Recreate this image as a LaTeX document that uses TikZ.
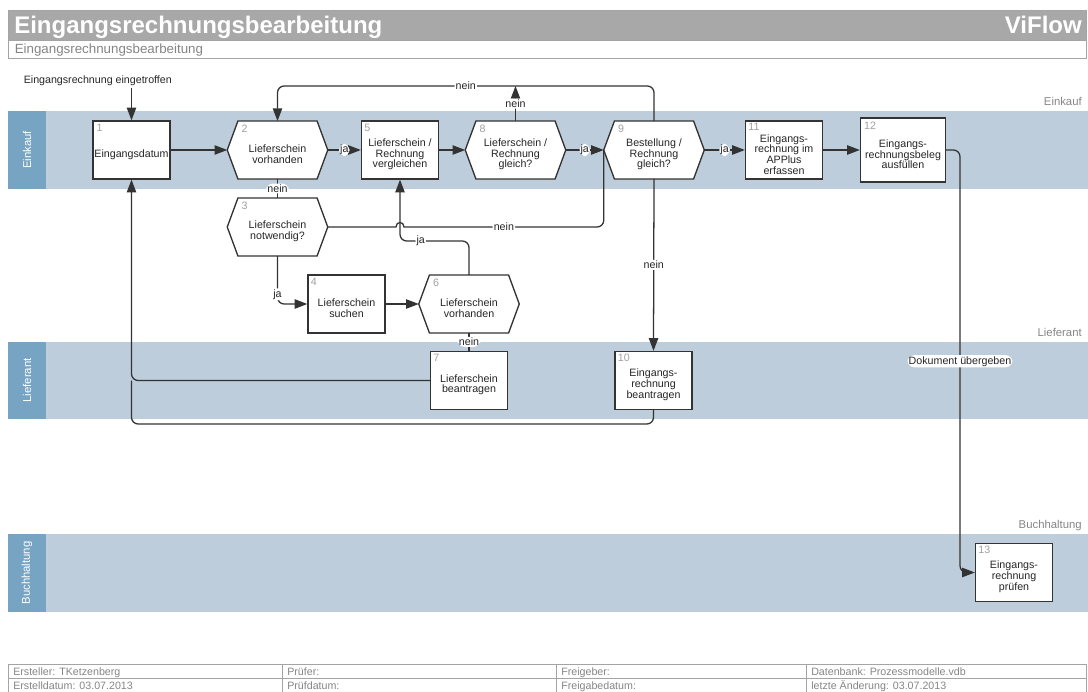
\documentclass[tikz,border=0pt]{standalone}
\usepackage{fontspec}
\setmainfont{Liberation Sans}
\usetikzlibrary{arrows.meta}

\definecolor{lanebg}{HTML}{BDCDDB}
\definecolor{lanehead}{HTML}{78A4C4}
\definecolor{titlebar}{HTML}{A8A8A8}
\definecolor{framegray}{HTML}{A4A4A4}
\definecolor{numgray}{HTML}{A0A0A0}
\definecolor{softgray}{HTML}{858585}
\definecolor{ink}{HTML}{262626}
\definecolor{linec}{HTML}{333333}

% elongated hexagon around a (borderless) node
\newcommand\hexfill[1]{%
  \filldraw[draw=linec, fill=white, line width=1pt]
    (#1.west) -- ([xshift=8pt]#1.north west) -- ([xshift=-8pt]#1.north east)
    -- (#1.east) -- ([xshift=-8pt]#1.south east) -- ([xshift=8pt]#1.south west) -- cycle;}

\begin{document}
\begin{tikzpicture}[x=0.75pt, y=-0.75pt,
  every node/.style={font=\fontsize{8}{8}\selectfont, text=ink, inner sep=0pt},
  box/.style={draw=linec, fill=white, line width=1pt, minimum width=57.75pt, minimum height=43.5pt},
  widebox/.style={box, minimum width=63.75pt, minimum height=48pt},
  hexbox/.style={minimum width=75pt, minimum height=43pt},
  caption/.style={align=center, yshift=-3.2pt},
  num/.style={anchor=north west, text=numgray},
  flow/.style={draw=linec, line width=0.95pt, rounded corners=5pt},
  arr/.style={flow, -{Triangle[length=9.5pt,width=7pt]}},
  lbl/.style={fill=white, inner sep=0.8pt},
  lanetitle/.style={anchor=base east, text=softgray, font=\fontsize{8.5}{8.5}\selectfont},
  lanename/.style={rotate=90, text=white, font=\fontsize{8.5}{8.5}\selectfont},
  foot/.style={anchor=base west, text=softgray, font=\fontsize{8}{8}\selectfont}
]
\useasboundingbox (0,0) rectangle (1088,692);

% ---------- header ----------
\fill[titlebar] (8,10) rectangle (1086,40);
\draw[framegray, fill=white, line width=0.7pt] (8,40) rectangle (1086,58);
\draw[framegray, line width=0.7pt] (8,10) rectangle (1086,58);
\node[anchor=base west, text=white, font=\fontsize{18}{18}\selectfont\bfseries] (title) at (14,33.3) {Eingangsrechnungsbearbeitung};
\node[anchor=base east, text=white, font=\fontsize{18}{18}\selectfont\bfseries] (brand) at (1082,33.3) {ViFlow};
\node[anchor=base west, text=softgray, font=\fontsize{10}{10}\selectfont] (subtitle) at (14.5,53.3) {Eingangsrechnungsbearbeitung};

% ---------- swimlanes ----------
\fill[lanebg] (8,111) rectangle (1088,189);
\fill[lanehead] (8,111) rectangle (46,189);
\fill[lanebg] (8,342) rectangle (1088,419);
\fill[lanehead] (8,342) rectangle (46,419);
\fill[lanebg] (8,534) rectangle (1088,612);
\fill[lanehead] (8,534) rectangle (46,612);

\node[lanename] (hEinkauf) at (27,150) {Einkauf};
\node[lanename] (hLieferant) at (27,380.5) {Lieferant};
\node[lanename] (hBuch) at (27,573) {Buchhaltung};

\node[lanetitle] (rEinkauf) at (1082,105.5) {Einkauf};
\node[lanetitle] (rLieferant) at (1082,336.5) {Lieferant};
\node[lanetitle] (rBuch) at (1082,528.5) {Buchhaltung};

% ---------- process steps ----------
\node[box] (n1) at (131.5,150) {};
\node[caption] (t1) at (n1) {Eingangsdatum};
\node[num] (k1) at ([xshift=3pt,yshift=-3pt]n1.north west) {1};

\node[hexbox] (n2) at (277.5,150) {};
\hexfill{n2}
\node[caption] (t2) at (n2) {Lieferschein\\vorhanden};
\node[num] (k2) at ([xshift=10.5pt,yshift=-2.5pt]n2.north west) {2};

\node[hexbox] (n3) at (277.5,227) {};
\hexfill{n3}
\node[caption] (t3) at (n3) {Lieferschein\\notwendig?};
\node[num] (k3) at ([xshift=10.5pt,yshift=-2.5pt]n3.north west) {3};

\node[box] (n4) at (346.5,304) {};
\node[caption] (t4) at (n4) {Lieferschein\\suchen};
\node[num] (k4) at ([xshift=2.5pt,yshift=-2.5pt]n4.north west) {4};

\node[box] (n5) at (400,150) {};
\node[caption] (t5) at (n5) {Lieferschein /\\Rechnung\\vergleichen};
\node[num] (k5) at ([xshift=2.5pt,yshift=-2.5pt]n5.north west) {5};

\node[hexbox] (n6) at (469,304) {};
\hexfill{n6}
\node[caption] (t6) at (n6) {Lieferschein\\vorhanden};
\node[num] (k6) at ([xshift=10.5pt,yshift=-2.5pt]n6.north west) {6};

\node[box] (n7) at (469,380.5) {};
\node[caption] (t7) at (n7) {Lieferschein\\beantragen};
\node[num] (k7) at ([xshift=2.5pt,yshift=-2.5pt]n7.north west) {7};

\node[hexbox] (n8) at (515.5,150) {};
\hexfill{n8}
\node[caption] (t8) at (n8) {Lieferschein /\\Rechnung\\gleich?};
\node[num] (k8) at ([xshift=10.5pt,yshift=-2.5pt]n8.north west) {8};

\node[hexbox] (n9) at (654,150) {};
\hexfill{n9}
\node[caption] (t9) at (n9) {Bestellung /\\Rechnung\\gleich?};
\node[num] (k9) at ([xshift=10.5pt,yshift=-2.5pt]n9.north west) {9};

\node[box] (n10) at (653.5,380.5) {};
\node[caption] (t10) at (n10) {Eingangs-\\rechnung\\beantragen};
\node[num] (k10) at ([xshift=2.5pt,yshift=-2.5pt]n10.north west) {10};

\node[box] (n11) at (784,150) {};
\node[caption] (t11) at (n11) {Eingangs-\\rechnung im\\APPlus\\erfassen};
\node[num] (k11) at ([xshift=2.5pt,yshift=-2pt]n11.north west) {11};

\node[widebox] (n12) at (903,150) {};
\node[caption] (t12) at (n12) {Eingangs-\\rechnungsbeleg\\ausfüllen};
\node[num] (k12) at ([xshift=3pt,yshift=-3pt]n12.north west) {12};

\node[box] (n13) at (1014,572.5) {};
\node[caption] (t13) at (n13) {Eingangs-\\rechnung\\prüfen};
\node[num] (k13) at ([xshift=2.5pt,yshift=-2.5pt]n13.north west) {13};

% ---------- start event ----------
\node[anchor=base west] (start) at (23.5,83.5) {Eingangsrechnung eingetroffen};
\coordinate (s0) at (131.5,88);
\draw[arr] (s0) -- (n1.north);

% ---------- routing helpers ----------
\coordinate (top) at (0,86);
\coordinate (jay) at (0,241);
\coordinate (hopL) at (396,227);
\coordinate (hopR) at (404,227);
\coordinate (loopB) at (131.5,424);
\coordinate (docx) at (960,0);

% ---------- connectors ----------
\draw[arr] (n1.east) -- (n2.west);
\draw[arr] (n2.east) -- node[lbl] {ja} (n5.west);
\draw[flow] (n2.south) -- node[lbl] {nein} (n3.north);
\draw[arr] (n3.south) -- node[lbl, pos=0.8] {ja} (n3.south |- n4.west) -- (n4.west);
\draw[flow, sharp corners] (n3.east) -- (hopL) .. controls (396,221) and (404,221) .. (hopR)
  [rounded corners=5pt] -- node[lbl] {nein} (n9.west |- n3.east) -- (n9.west);
\draw[arr] (n4.east) -- (n6.west);
\draw[flow] (n6.south) -- node[lbl] {nein} (n7.north);
\draw[arr] (n6.north) -- (n6.north |- jay) -- node[lbl, pos=0.7] {ja} (n5.south |- jay) -- (n5.south);
\draw[arr] (n7.west) -| (n1.south);
\draw[flow] (n10.south) |- (loopB) -- (n1.south |- n7.west);
\draw[arr] (n5.east) -- (n8.west);
\draw[arr] (n8.east) -- node[lbl] {ja} (n9.west);
\draw[arr] (n8.north) -- node[lbl] {nein} (n8.north |- top);
\draw[arr] (n9.north) -- (n9.north |- top) -- node[lbl] {nein} (n2.north |- top) -- (n2.north);
\draw[arr] (n9.south) -- node[lbl] {nein} (n10.north);
\draw[arr] (n9.east) -- node[lbl] {ja} (n11.west);
\draw[arr] (n11.east) -- (n12.west);
\draw[arr] (n12.east) -| node[lbl, pos=0.75] {Dokument übergeben} (docx |- n13.west) -- (n13.west);

% ---------- footer ----------
\draw[framegray, line width=0.7pt] (8,664) rectangle (1086,698);
\draw[framegray, line width=0.7pt] (8,678) -- (1086,678);
\draw[framegray, line width=0.7pt] (282,664) -- (282,698);
\draw[framegray, line width=0.7pt] (556,664) -- (556,698);
\draw[framegray, line width=0.7pt] (806,664) -- (806,698);
\node[foot] (f1) at (13,675) {Ersteller: TKetzenberg};
\node[foot] (f2) at (287,675) {Prüfer:};
\node[foot] (f3) at (561,675) {Freigeber:};
\node[foot] (f4) at (811,675) {Datenbank: Prozessmodelle.vdb};
\node[foot] (f5) at (13,689) {Erstelldatum: 03.07.2013};
\node[foot] (f6) at (287,689) {Prüfdatum:};
\node[foot] (f7) at (561,689) {Freigabedatum:};
\node[foot] (f8) at (811,689) {letzte Änderung: 03.07.2013};
\end{tikzpicture}
\end{document}
